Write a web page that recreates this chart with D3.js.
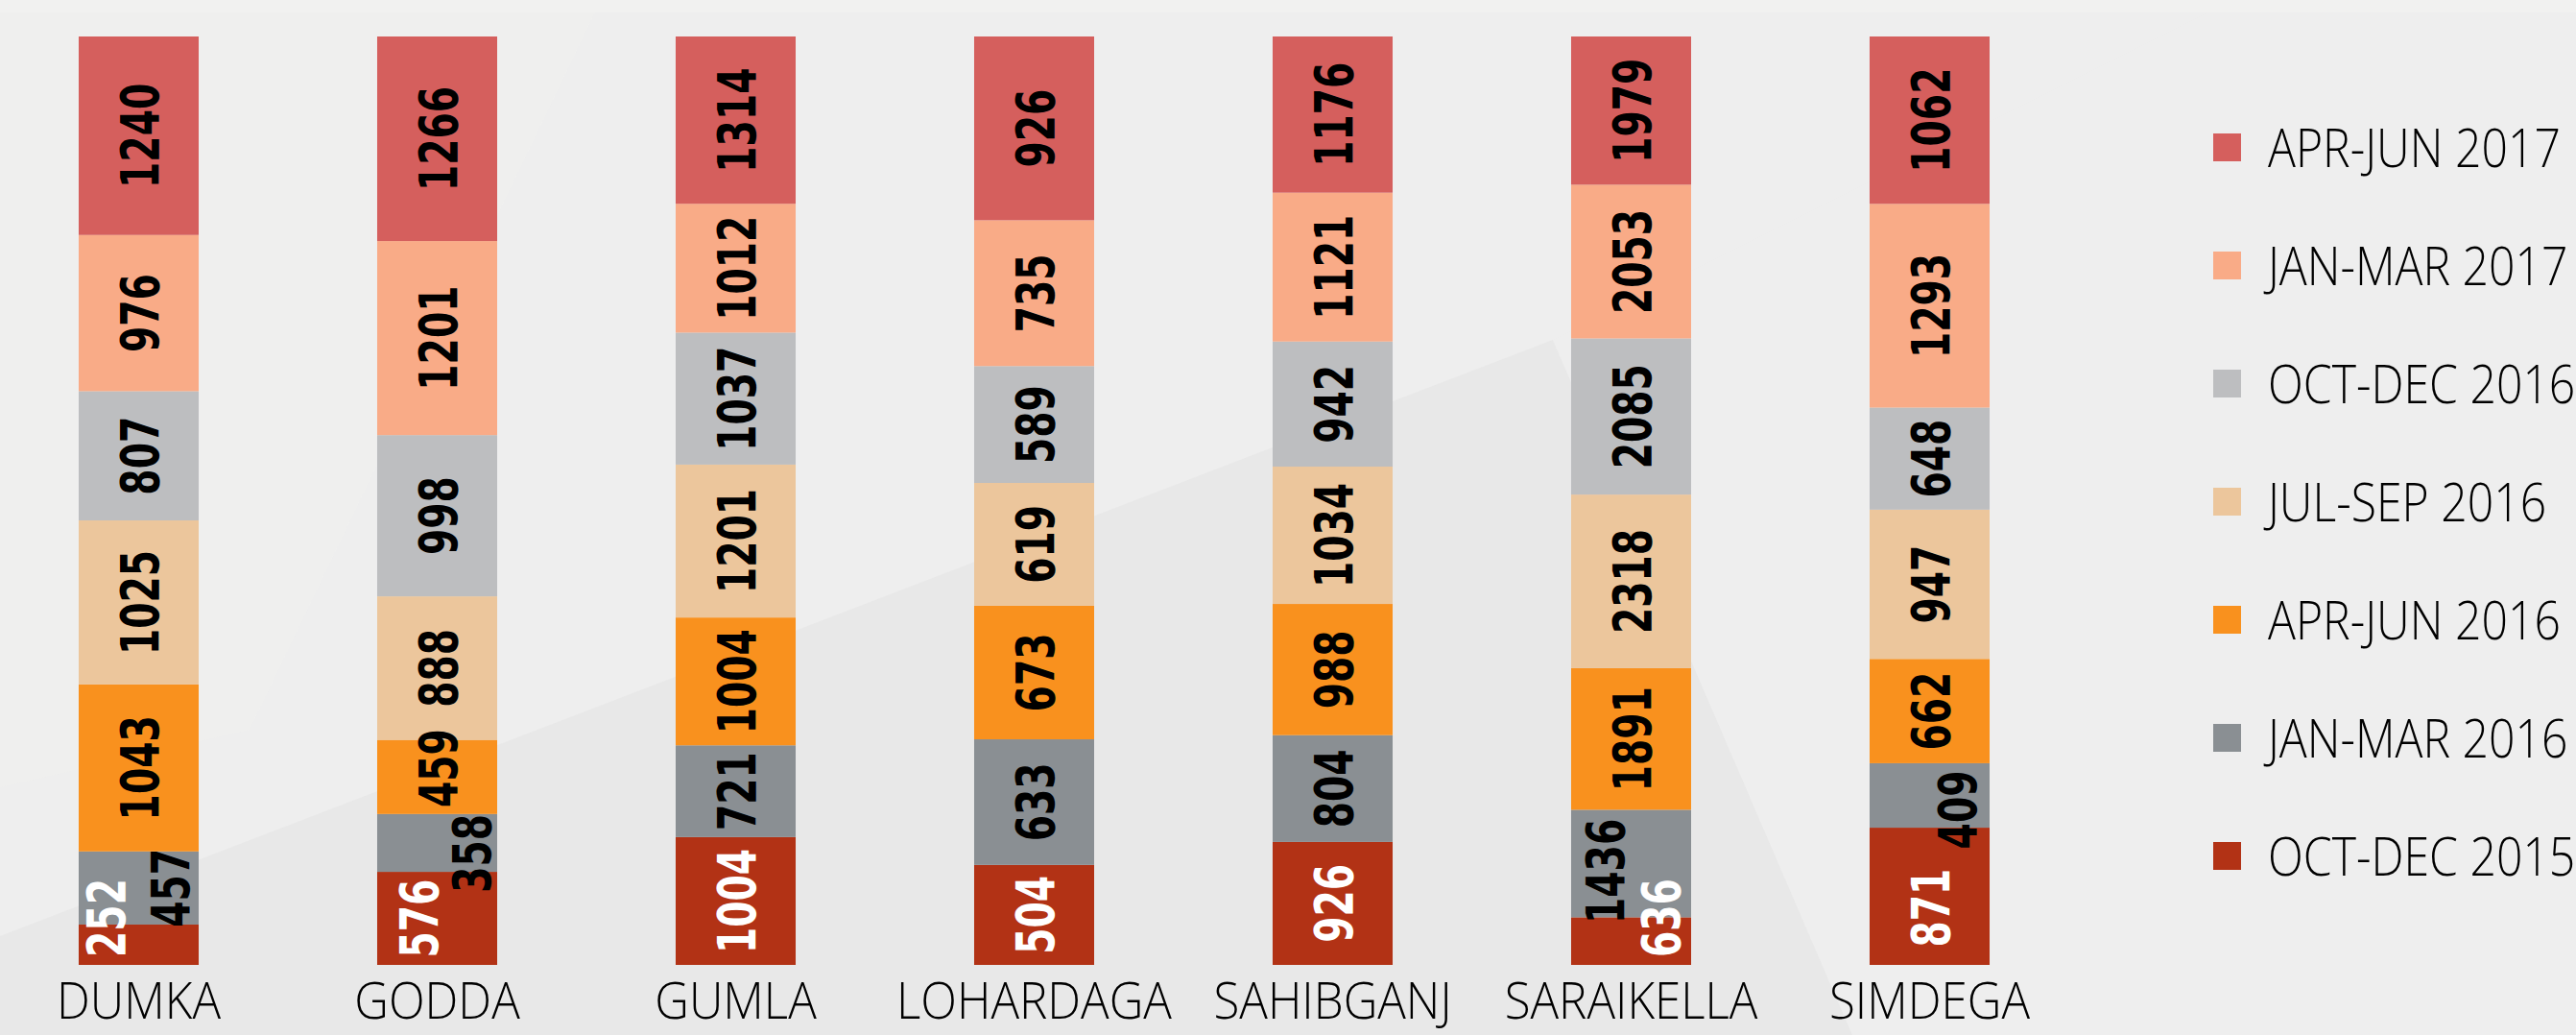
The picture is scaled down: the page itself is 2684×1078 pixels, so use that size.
<!DOCTYPE html>
<html>
    <head>
        <meta charset="utf-8">
        <title>Districts by quarter</title>
        <script type="text/javascript" src="https://cdn.jsdelivr.net/npm/d3@7"></script>
        <style>
            body { margin: 0; background: #eeeeee; }
            svg { display: block; }
        </style>
    </head>
    <body>
        <svg id="svg"></svg>

        <script>
            var WIDTH = 2684;
            var HEIGHT = 1078;

            // districts along the x axis
            var districts = ["DUMKA", "GODDA", "GUMLA", "LOHARDAGA", "SAHIBGANJ", "SARAIKELLA", "SIMDEGA"];
            // quarters, bottom of the stack first
            var quarters = ["OCT-DEC 2015", "JAN-MAR 2016", "APR-JUN 2016", "JUL-SEP 2016",
                            "OCT-DEC 2016", "JAN-MAR 2017", "APR-JUN 2017"];
            // one array per quarter, in district order
            var octDec2015 = [252, 576, 1004, 504, 926, 636, 871];
            var janMar2016 = [457, 358, 721, 633, 804, 1436, 409];
            var aprJun2016 = [1043, 459, 1004, 673, 988, 1891, 662];
            var julSep2016 = [1025, 888, 1201, 619, 1034, 2318, 947];
            var octDec2016 = [807, 998, 1037, 589, 942, 2085, 648];
            var janMar2017 = [976, 1201, 1012, 735, 1121, 2053, 1293];
            var aprJun2017 = [1240, 1266, 1314, 926, 1176, 1979, 1062];

            var series = [octDec2015, janMar2016, aprJun2016, julSep2016, octDec2016, janMar2017, aprJun2017];
            var colors = ["#b23215", "#8a8f93", "#f9911e", "#ecc69c", "#bdbec0", "#f9ab87", "#d55f5d"];

            // labels that were pushed aside in the original (screen px)
            var nudge = {
                "DUMKA|OCT-DEC 2015": [-35, -28],
                "DUMKA|JAN-MAR 2016": [32, 0],
                "GODDA|OCT-DEC 2015": [-20, 0],
                "GODDA|JAN-MAR 2016": [35, 11],
                "GODDA|APR-JUN 2016": [0, -9],
                "SARAIKELLA|JAN-MAR 2016": [-28, 8],
                "SARAIKELLA|OCT-DEC 2015": [30, -24],
                "SIMDEGA|JAN-MAR 2016": [28, 15],
                "SIMDEGA|OCT-DEC 2015": [0, 12]
            };

            var rows = districts.map(function(name, i){
                var r = {district: name};
                quarters.forEach(function(q, j){ r[q] = series[j][i]; });
                return r;
            });

            var stack = d3.stack()
                          .keys(quarters)
                          .offset(d3.stackOffsetExpand);
            var layers = stack(rows);

            var svg = d3.select("#svg")
                        .attr("width", WIDTH)
                        .attr("height", HEIGHT);

            // soft background facets
            svg.append("rect").attr("width", WIDTH).attr("height", HEIGHT).attr("fill", "#eeeeee");
            svg.append("rect").attr("width", WIDTH).attr("height", 13).attr("fill", "#f1f1f0");
            var facets = [
                {pts: [[0, 1078], [0, 975], [1618, 354], [1930, 1078]], fill: "#e6e6e6", op: 0.8},
                {pts: [[0, 13], [620, 13], [260, 760], [0, 820]], fill: "#f0f0ef", op: 0.6},
                {pts: [[1618, 354], [2300, 13], [2684, 13], [2684, 1078], [1930, 1078]], fill: "#ededed", op: 0.8}
            ];
            svg.selectAll("polygon.facet")
               .data(facets)
               .enter()
               .append("polygon")
               .attr("class", "facet")
               .attr("points", function(d){ return d.pts.join(" "); })
               .attr("fill", function(d){ return d.fill; })
               .attr("fill-opacity", function(d){ return d.op; });

            var xScale = d3.scaleBand()
                           .domain(districts)
                           .range([-11, 2166])
                           .paddingInner(0.598)
                           .paddingOuter(0.299);
            var yScale = d3.scaleLinear()
                           .domain([0, 1])
                           .range([1005, 38]);
            var colorScale = d3.scaleOrdinal()
                               .domain(quarters)
                               .range(colors);

            var groups = svg.selectAll("g.layer")
                            .data(layers)
                            .enter()
                            .append("g")
                            .attr("class", "layer")
                            .attr("fill", function(d){ return colorScale(d.key); });

            groups.selectAll("rect")
                  .data(function(d){ return d; })
                  .enter()
                  .append("rect")
                  .attr("x", function(d){ return xScale(d.data.district); })
                  .attr("y", function(d){ return yScale(d[1]); })
                  .attr("width", xScale.bandwidth())
                  .attr("height", function(d){ return yScale(d[0]) - yScale(d[1]); });

            // value labels, rotated, in a squeezed bold face
            var labels = [];
            layers.forEach(function(layer){
                layer.forEach(function(d){
                    var key = d.data.district + "|" + layer.key;
                    var off = nudge[key] || [0, 0];
                    labels.push({
                        value: d.data[layer.key],
                        white: layer.key === "OCT-DEC 2015",
                        x: xScale(d.data.district) + xScale.bandwidth() / 2 + off[0],
                        y: (yScale(d[0]) + yScale(d[1])) / 2 + off[1]
                    });
                });
            });

            svg.selectAll("text.value")
               .data(labels)
               .enter()
               .append("text")
               .attr("class", "value")
               .attr("transform", function(d){
                   return "translate(" + d.x + "," + d.y + ") rotate(-90) scale(0.7,1)";
               })
               .attr("text-anchor", "middle")
               .attr("dy", "0.36em")
               .attr("font-family", "DejaVu Sans")
               .attr("font-weight", "bold")
               .attr("font-size", "56px")
               .attr("fill", function(d){ return d.white ? "#ffffff" : "#000000"; })
               .text(function(d){ return d.value; });

            // district names under the bars
            var xAxis = d3.axisBottom(xScale).tickSize(0).tickPadding(0);
            var axisG = svg.append("g")
                           .attr("transform", "translate(0,1061)")
                           .call(xAxis);
            axisG.select(".domain").remove();
            axisG.selectAll("text")
                 .attr("dy", 0)
                 .attr("y", 0)
                 .attr("transform", "scale(0.93,1)")
                 .attr("font-family", "Open Sans")
                 .attr("font-weight", 300)
                 .attr("font-size", "53px")
                 .attr("fill", "#000000");

            // legend, top item is the top of the stack
            var legendKeys = quarters.slice().reverse();
            var legend = svg.selectAll("g.legend")
                            .data(legendKeys)
                            .enter()
                            .append("g")
                            .attr("class", "legend")
                            .attr("transform", function(d, i){
                                return "translate(2306," + (139 + i * 123) + ")";
                            });
            legend.append("rect")
                  .attr("width", 29)
                  .attr("height", 29)
                  .attr("fill", function(d){ return colorScale(d); });
            legend.append("text")
                  .attr("transform", "translate(57,35) scale(0.86,1)")
                  .attr("font-family", "Open Sans")
                  .attr("font-weight", 300)
                  .attr("font-size", "56px")
                  .attr("fill", "#000000")
                  .text(function(d){ return d; });
        </script>
    </body>
</html>
